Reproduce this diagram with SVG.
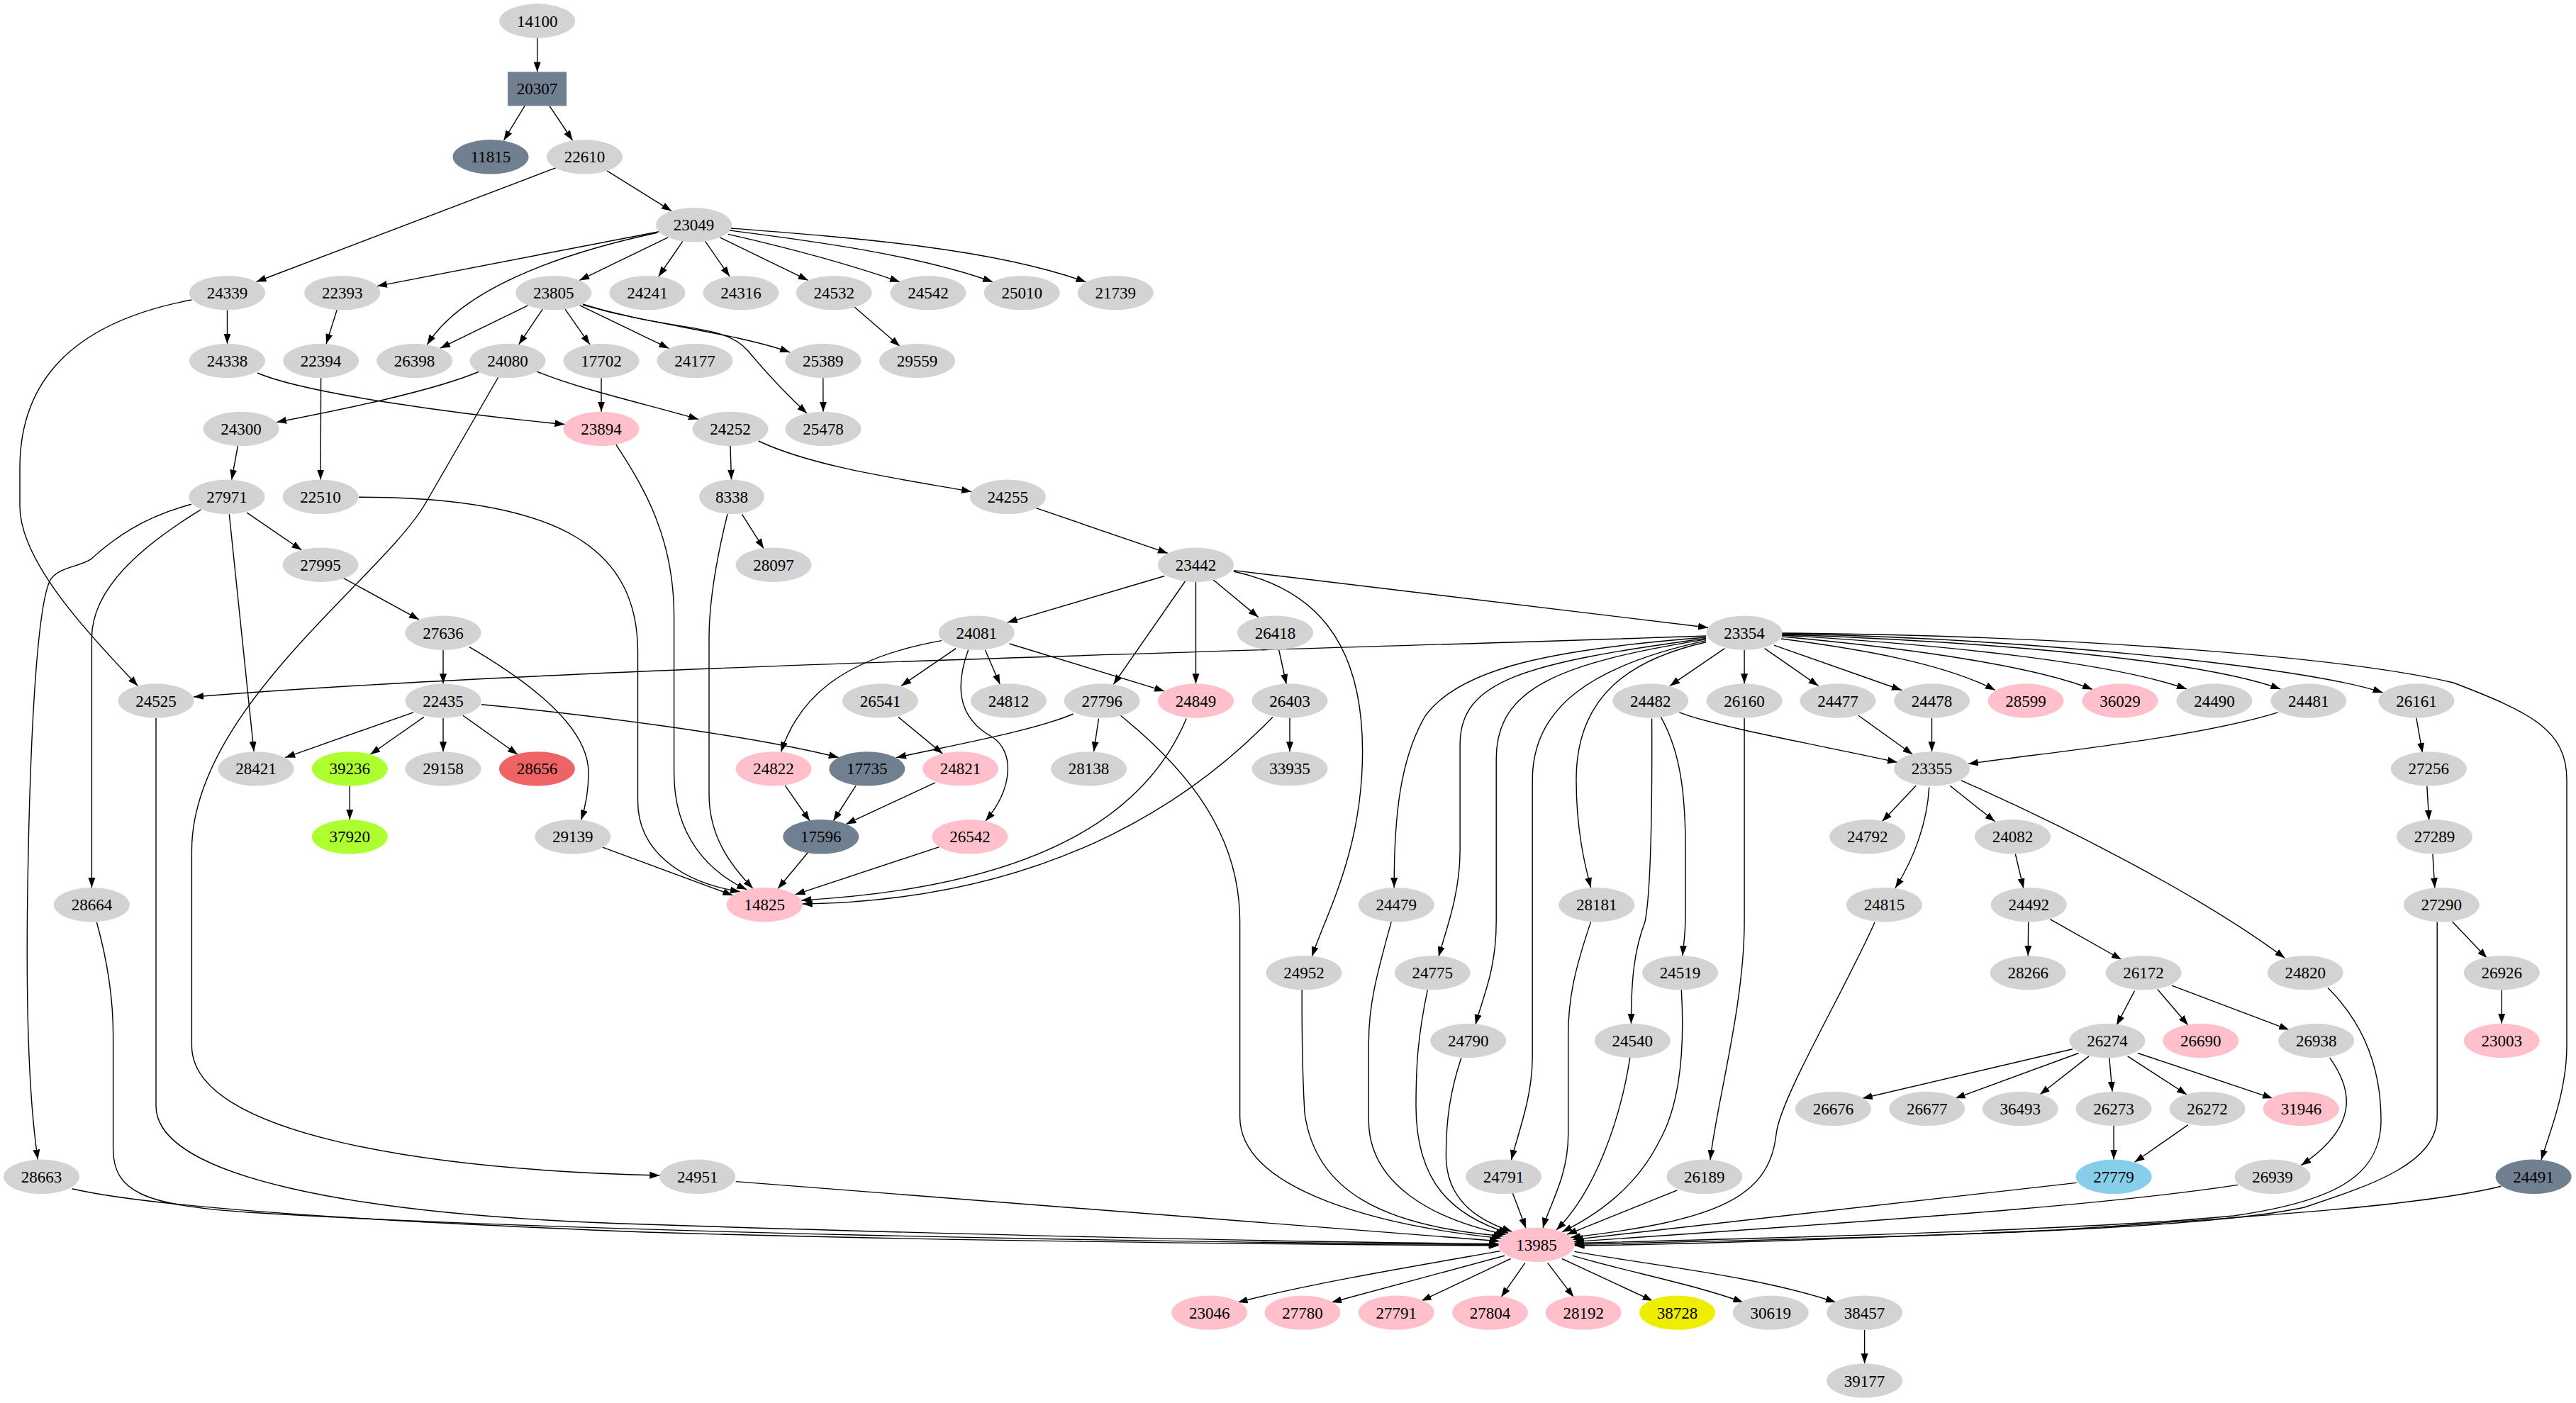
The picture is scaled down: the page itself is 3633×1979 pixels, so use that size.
<svg xmlns="http://www.w3.org/2000/svg" width="3633" height="1979" viewBox="0 0 3633 1979">
<defs>
<marker id="a" markerUnits="userSpaceOnUse" markerWidth="15" markerHeight="11" refX="14" refY="5" orient="auto"><path d="M0,0 L14,5 L0,10 z" fill="#000"/></marker>
<style>
.e{fill:none;stroke:#000;stroke-width:1.4;marker-end:url(#a)}
.g{fill:#d3d3d3}.p{fill:#ffc0cb}.s{fill:#708090}.y{fill:#adff2f}.r{fill:#ee6363}.yl{fill:#eeee00}.b{fill:#87ceeb}
text{font-family:"Liberation Serif","Times New Roman",serif;font-size:23px;text-anchor:middle;fill:#000}
</style>
</defs>
<rect width="3633" height="1979" fill="#fff"/>
<g id="edges">
<path class="e" d="M757.7,53.7 L757.7,101.4"/>
<path class="e" d="M740,149.4 L710.5,198"/>
<path class="e" d="M775,149.4 L807.5,198"/>
<path class="e" d="M783.6,236.9 L361.4,397.5"/>
<path class="e" d="M856,240.9 L947.1,297.6"/>
<path class="e" d="M929.4,326.7 L531.9,403.6"/>
<path class="e" d="M926.8,328.3 C780,360 650,410 602.4,486.2"/>
<path class="e" d="M942.1,334.9 L817.3,395.4"/>
<path class="e" d="M962.8,340.3 L928.7,390"/>
<path class="e" d="M994.6,340.3 L1029,390"/>
<path class="e" d="M1015.1,334.9 L1139.7,395.4"/>
<path class="e" d="M1027,330.4 C1100,347 1190,370 1269,397.7"/>
<path class="e" d="M1029,325 C1130,338 1290,358 1400.2,397.8"/>
<path class="e" d="M1031,322 C1200,335 1400,350 1531.5,397.8"/>
<path class="e" d="M320.5,437.3 L320.5,484.8"/>
<path class="e" d="M270.3,423 C100,455 28,540 28,660 L28,714 C28,790 120,890 194.4,967.4"/>
<path class="e" d="M475.2,437.1 L460.1,485"/>
<path class="e" d="M744.5,430.9 L620.9,491.2"/>
<path class="e" d="M765.2,436.2 L731.6,485.9"/>
<path class="e" d="M797,436.2 L831.8,485.9"/>
<path class="e" d="M817.4,430.7 L943.4,491.4"/>
<path class="e" d="M822,429 C900,455 1040,470 1114,497"/>
<path class="e" d="M822,430 C960,470 1020,455 1055,495 C1080,525 1110,557 1138,583"/>
<path class="e" d="M363,526 C430,555 650,585 796.5,598.5"/>
<path class="e" d="M676,524 C610,552 480,578 390,595.6"/>
<path class="e" d="M757,524 C820,550 920,572 985,591.4"/>
<path class="e" d="M702.8,532 L600,710 C540,814 270.4,1000 270.4,1200 L270.4,1475 C270.4,1600 600,1650 930.3,1658"/>
<path class="e" d="M848,533.2 L848,580.7"/>
<path class="e" d="M1160.8,533.2 L1161,580.7"/>
<path class="e" d="M1205,433 L1269,488.3"/>
<path class="e" d="M452.6,533.2 L452.1,676.6"/>
<path class="e" d="M335.4,629 L326.7,676.7"/>
<path class="e" d="M868.8,627.2 C910,690 950.6,760 950.6,870 L950.6,1090 C950.6,1180 1000,1230 1053.2,1254.8"/>
<path class="e" d="M1030,629 L1031.5,676.6"/>
<path class="e" d="M1069.6,622 C1150,660 1280,677 1370,693.5"/>
<path class="e" d="M506,701.2 C800,701 899.5,780 899.5,920 L899.5,1130 C899.5,1200 960,1245 1043.9,1257.7"/>
<path class="e" d="M1046.4,725.4 L1077.1,773.8"/>
<path class="e" d="M1026,725 C1010,790 1000,850 1000,900 L1000,1120 C1000,1180 1030,1220 1061.8,1253.2"/>
<path class="e" d="M1461.3,716.6 L1647,780.4"/>
<path class="e" d="M348.2,723.2 L425.4,776"/>
<path class="e" d="M323.3,725.4 L358.1,1060"/>
<path class="e" d="M283.2,718.8 C200,770 129.4,830 129.4,900 L129.4,1252"/>
<path class="e" d="M269.9,711.3 C200,730 160,760 127.7,789.2 C110,800 85,800 72.5,815.6 C55,840 42,1000 38.5,1290 C37,1450 42,1560 53.4,1635.6"/>
<path class="e" d="M484.6,815.6 L591,873.9"/>
<path class="e" d="M625,916.8 L625,964.3"/>
<path class="e" d="M661.6,912.4 C760,970 830,1030 830,1090 C830,1120 825,1140 819.5,1156.5"/>
<path class="e" d="M583.2,1004.8 L402.2,1068.6"/>
<path class="e" d="M597.8,1011.4 L522.3,1064.2"/>
<path class="e" d="M625,1012.7 L625,1060.2"/>
<path class="e" d="M652.9,1009.2 L730,1064.2"/>
<path class="e" d="M679,993.8 C800,1005 1050,1035 1182.8,1068.6"/>
<path class="e" d="M493.3,1108.6 L493.3,1156.1"/>
<path class="e" d="M849.9,1195.2 L1033.4,1263"/>
<path class="e" d="M1642.4,812.5 L1420.7,878.1"/>
<path class="e" d="M1671.4,820 L1570.3,965.4"/>
<path class="e" d="M1686.5,820.9 L1686.5,964.3"/>
<path class="e" d="M1711,817.8 L1774.7,870.6"/>
<path class="e" d="M1739.9,806 C1850,830 1921.6,900 1921.6,1060 C1921.6,1200 1870,1290 1850.2,1349.3"/>
<path class="e" d="M1739.9,804.6 L2409,885.2"/>
<path class="e" d="M1327.9,903.6 C1180,930 1125,990 1101.5,1060.5"/>
<path class="e" d="M1348.2,914.6 L1271,967.4"/>
<path class="e" d="M1389.4,916.8 L1410.3,965.2"/>
<path class="e" d="M1365.6,916.8 C1350,960 1345,1010 1400,1040 C1430,1060 1430,1110 1390,1158"/>
<path class="e" d="M1423.6,908 L1642.2,974.9"/>
<path class="e" d="M1803.7,917 L1814.2,965"/>
<path class="e" d="M1819,1012.7 L1819,1060.2"/>
<path class="e" d="M1795,1011.4 C1700,1110 1500,1270 1131.7,1275"/>
<path class="e" d="M1513.6,1007 C1460,1030 1350,1050 1264,1068.6"/>
<path class="e" d="M1549.5,1013.6 L1542.6,1060.2"/>
<path class="e" d="M1580.3,1009.2 C1680,1090 1748.6,1180 1748.6,1300 L1748.6,1575 C1748.6,1680 1950,1730 2117.4,1746.6"/>
<path class="e" d="M1673.2,1013.6 C1620,1140 1480,1250 1130,1269.9"/>
<path class="e" d="M1266.9,1011.4 L1329.4,1063.1"/>
<path class="e" d="M1107.3,1108.2 L1142.1,1158"/>
<path class="e" d="M1207.1,1108.2 L1175.2,1158"/>
<path class="e" d="M1319.1,1103.8 L1193.2,1162.4"/>
<path class="e" d="M1139,1203 L1097.1,1253.5"/>
<path class="e" d="M1324.7,1194.6 L1121.5,1261.9"/>
<path class="e" d="M2406,897 C1800,918 800,940 273,983"/>
<path class="e" d="M2406,899 C2200,915 2060,940 2010,1010 C1975,1070 1966,1150 1966.2,1252"/>
<path class="e" d="M2406,900.5 C2150,935 2059.1,960 2059.1,1050 L2059.1,1200 C2059.1,1260 2040,1310 2028.9,1349.3"/>
<path class="e" d="M2406,901.9 C2200,935 2110.2,970 2110.2,1070 L2110.2,1300 C2110.2,1370 2090,1410 2081,1445"/>
<path class="e" d="M2406,903.6 C2240,940 2161.2,1000 2161.2,1100 L2161.2,1490 C2161.2,1550 2140,1600 2131.6,1636"/>
<path class="e" d="M2406,905.8 C2300,930 2223,980 2223,1100 C2223,1170 2235,1220 2243.6,1252"/>
<path class="e" d="M2432.3,914.6 L2355.1,967.4"/>
<path class="e" d="M2460.1,916.8 L2460.1,964.3"/>
<path class="e" d="M2488.6,914.6 L2564.6,967.4"/>
<path class="e" d="M2501.9,910.2 L2682,973.5"/>
<path class="e" d="M2512,901 C2620,915 2740,935 2814,973.5"/>
<path class="e" d="M2513,898 C2700,915 2870,940 2951,972.5"/>
<path class="e" d="M2513,896 C2750,910 2980,935 3084,972"/>
<path class="e" d="M2513,895 C2800,905 3100,930 3216.3,972"/>
<path class="e" d="M2513,894 C2850,900 3250,940 3360.6,977"/>
<path class="e" d="M2513,893 C2900,896 3300,925 3460,963 C3570,1005 3620,1030 3620,1100 L3620,1475 C3620,1540 3595,1600 3584,1636"/>
<path class="e" d="M2368.4,1004.8 C2420,1025 2560,1050 2676,1075.3"/>
<path class="e" d="M2329.6,1013.6 C2330,1100 2330,1250 2320,1300 C2305,1340 2300.5,1380 2300.5,1443.8"/>
<path class="e" d="M2342.3,1011.4 C2370,1060 2377.1,1120 2377.1,1200 L2377.1,1290 C2377,1320 2374,1335 2373,1348"/>
<path class="e" d="M2460.1,1012.7 L2460.1,1300 C2460,1420 2420,1560 2412,1636"/>
<path class="e" d="M2620.9,1009.2 L2697.5,1064.2"/>
<path class="e" d="M2724.5,1012.7 L2724.5,1060.2"/>
<path class="e" d="M3212.6,1004.8 C3100,1040 2900,1060 2776,1077.4"/>
<path class="e" d="M3407.8,1012.7 L3416.5,1062"/>
<path class="e" d="M3422.8,1108.6 L3425.7,1157"/>
<path class="e" d="M3430.9,1204.5 L3433.8,1252.4"/>
<path class="e" d="M3458.5,1300 L3507.5,1351.5"/>
<path class="e" d="M3437.2,1300.4 L3437.2,1575 C3437,1640 3350,1670 3250,1703 C3100,1735 2700,1745 2220.5,1755.2"/>
<path class="e" d="M3528.2,1396.3 L3528.2,1443.8"/>
<path class="e" d="M2702.1,1108.2 L2654.5,1158.8"/>
<path class="e" d="M2720.7,1110.5 C2718,1160 2700,1210 2673,1252.6"/>
<path class="e" d="M2750.2,1108.2 L2813.5,1158.8"/>
<path class="e" d="M2765.7,1100.8 C2900,1160 3100,1260 3222.4,1351.5"/>
<path class="e" d="M2842.3,1204.5 L2853.8,1253"/>
<path class="e" d="M2860.7,1300.4 L2860.2,1347.9"/>
<path class="e" d="M2891.3,1296.6 L2992,1353.5"/>
<path class="e" d="M3010.5,1397.6 L2985.1,1446"/>
<path class="e" d="M3042.7,1395.4 L3085.9,1446"/>
<path class="e" d="M3062.9,1390.2 L3228.2,1452.6"/>
<path class="e" d="M2922.9,1479.8 L2626.7,1549.3"/>
<path class="e" d="M2931.6,1485.5 L2757.6,1549.3"/>
<path class="e" d="M2946,1489.9 L2876.9,1544"/>
<path class="e" d="M2974.8,1492 L2979,1539.8"/>
<path class="e" d="M3000.7,1489.9 L3084.2,1544"/>
<path class="e" d="M3015,1485.5 L3205.1,1549.3"/>
<path class="e" d="M2981.1,1588.1 L2981.1,1635.6"/>
<path class="e" d="M3085.9,1586.6 L3010.5,1639.3"/>
<path class="e" d="M3285.7,1492.1 C3320,1540 3325,1590 3245.4,1643.7"/>
<path class="e" d="M2116,1764.6 C2000,1785 1850,1810 1745.7,1837"/>
<path class="e" d="M2121.8,1771.2 L1878,1837"/>
<path class="e" d="M2130.5,1775.5 L2004.6,1834.9"/>
<path class="e" d="M2150.8,1781.3 L2117.1,1829.6"/>
<path class="e" d="M2182.7,1781.3 L2219.3,1829.6"/>
<path class="e" d="M2203,1775.5 L2330.7,1834.9"/>
<path class="e" d="M2217.5,1771.2 C2300,1795 2390,1812 2458.4,1837"/>
<path class="e" d="M2220.4,1765.4 C2330,1785 2480,1800 2589,1837"/>
<path class="e" d="M2629.6,1875.8 L2629.6,1923.3"/>
<path class="e" d="M101.6,1676.7 C200,1700 450,1720 910,1738 C1300,1750 1800,1755 2113.6,1757"/>
<path class="e" d="M136.4,1301 C150,1350 159.6,1400 159.6,1460 L159.6,1620 C159.6,1680 200,1700 350,1710 C800,1738 1600,1752 2113.5,1755.7"/>
<path class="e" d="M220,1012.7 L220,1560 C220,1660 500,1715 910,1727 C1300,1740 1800,1752 2113.6,1754.4"/>
<path class="e" d="M1037.7,1666.6 L2114.7,1750.7"/>
<path class="e" d="M1836.2,1396.3 C1836,1450 1837,1520 1840,1570 C1855,1680 1950,1730 2120.7,1743.6"/>
<path class="e" d="M1962.2,1300.4 C1940,1380 1930.3,1420 1930.3,1470 L1930.3,1580 C1930.3,1670 2020,1720 2123.7,1741.5"/>
<path class="e" d="M2013.3,1396.3 C2000,1460 1997,1500 1997,1560 C1997,1670 2050,1715 2127.2,1739.5"/>
<path class="e" d="M2060.8,1492.2 C2045,1540 2039.4,1580 2039.4,1630 C2039.4,1690 2080,1720 2132.6,1737.2"/>
<path class="e" d="M2133.4,1683 L2152,1732.4"/>
<path class="e" d="M2243.6,1300.4 C2220,1370 2211.7,1410 2211.7,1460 L2211.7,1600 C2211.7,1660 2185,1700 2176,1731.9"/>
<path class="e" d="M2298.8,1492.2 C2285,1580 2250,1680 2195,1735"/>
<path class="e" d="M2371.3,1396.3 C2375,1460 2374,1550 2340,1610 C2310,1670 2260,1710 2203,1737.8"/>
<path class="e" d="M2365.5,1678.9 L2210,1741.3"/>
<path class="e" d="M2644,1301 C2600,1400 2510,1550 2505,1600 C2495,1690 2420,1722 2215,1745.5"/>
<path class="e" d="M2928.7,1668.4 L2218.3,1748.6"/>
<path class="e" d="M3156.2,1671.4 C3000,1695 2800,1712 2219.8,1751.5"/>
<path class="e" d="M3282.9,1393.3 C3330,1440 3358,1500 3358,1580 C3358,1660 3290,1695 3150,1715 C3000,1730 2700,1742 2220.3,1753.5"/>
<path class="e" d="M3527.6,1673.2 C3420,1700 3200,1715 2900,1735 C2600,1748 2400,1755 2220.5,1757"/>
</g>
<g id="n14100"><ellipse class="g" cx="757.7" cy="29.5" rx="53.5" ry="24.2"/><text x="757.7" y="37.5">14100</text></g>
<g id="n20307"><rect class="s" x="716" y="101.4" width="83" height="48"/><text x="757.6" y="133.4">20307</text></g>
<g id="n11815"><ellipse class="s" cx="692" cy="221.3" rx="53.5" ry="24.2"/><text x="692" y="229.3">11815</text></g>
<g id="n22610"><ellipse class="g" cx="824.5" cy="221.3" rx="53.5" ry="24.2"/><text x="824.5" y="229.3">22610</text></g>
<g id="n23049"><ellipse class="g" cx="978.6" cy="317.2" rx="53.5" ry="24.2"/><text x="978.6" y="325.2">23049</text></g>
<g id="n24339"><ellipse class="g" cx="320.5" cy="413.1" rx="53.5" ry="24.2"/><text x="320.5" y="421.1">24339</text></g>
<g id="n22393"><ellipse class="g" cx="482.7" cy="413.1" rx="53.5" ry="24.2"/><text x="482.7" y="421.1">22393</text></g>
<g id="n23805"><ellipse class="g" cx="780.8" cy="413.1" rx="53.5" ry="24.2"/><text x="780.8" y="421.1">23805</text></g>
<g id="n24241"><ellipse class="g" cx="912.9" cy="413.1" rx="53.5" ry="24.2"/><text x="912.9" y="421.1">24241</text></g>
<g id="n24316"><ellipse class="g" cx="1045" cy="413.1" rx="53.5" ry="24.2"/><text x="1045" y="421.1">24316</text></g>
<g id="n24532"><ellipse class="g" cx="1176.2" cy="413.1" rx="53.5" ry="24.2"/><text x="1176.2" y="421.1">24532</text></g>
<g id="n24542"><ellipse class="g" cx="1309" cy="413.1" rx="53.5" ry="24.2"/><text x="1309" y="421.1">24542</text></g>
<g id="n25010"><ellipse class="g" cx="1441.2" cy="413.1" rx="53.5" ry="24.2"/><text x="1441.2" y="421.1">25010</text></g>
<g id="n21739"><ellipse class="g" cx="1573.2" cy="413.1" rx="53.5" ry="24.2"/><text x="1573.2" y="421.1">21739</text></g>
<g id="n24338"><ellipse class="g" cx="320.5" cy="509" rx="53.5" ry="24.2"/><text x="320.5" y="517">24338</text></g>
<g id="n22394"><ellipse class="g" cx="452.6" cy="509" rx="53.5" ry="24.2"/><text x="452.6" y="517">22394</text></g>
<g id="n26398"><ellipse class="g" cx="584.6" cy="509" rx="53.5" ry="24.2"/><text x="584.6" y="517">26398</text></g>
<g id="n24080"><ellipse class="g" cx="716" cy="509" rx="53.5" ry="24.2"/><text x="716" y="517">24080</text></g>
<g id="n17702"><ellipse class="g" cx="848" cy="509" rx="53.5" ry="24.2"/><text x="848" y="517">17702</text></g>
<g id="n24177"><ellipse class="g" cx="980" cy="509" rx="53.5" ry="24.2"/><text x="980" y="517">24177</text></g>
<g id="n25389"><ellipse class="g" cx="1160.8" cy="509" rx="53.5" ry="24.2"/><text x="1160.8" y="517">25389</text></g>
<g id="n29559"><ellipse class="g" cx="1293.6" cy="509" rx="53.5" ry="24.2"/><text x="1293.6" y="517">29559</text></g>
<g id="n24300"><ellipse class="g" cx="340" cy="604.9" rx="53.5" ry="24.2"/><text x="340" y="612.9">24300</text></g>
<g id="n23894"><ellipse class="p" cx="848" cy="604.9" rx="53.5" ry="24.2"/><text x="848" y="612.9">23894</text></g>
<g id="n24252"><ellipse class="g" cx="1030" cy="604.9" rx="53.5" ry="24.2"/><text x="1030" y="612.9">24252</text></g>
<g id="n25478"><ellipse class="g" cx="1161" cy="604.9" rx="53.5" ry="24.2"/><text x="1161" y="612.9">25478</text></g>
<g id="n27971"><ellipse class="g" cx="320" cy="700.8" rx="53.5" ry="24.2"/><text x="320" y="708.8">27971</text></g>
<g id="n22510"><ellipse class="g" cx="452.1" cy="700.8" rx="53.5" ry="24.2"/><text x="452.1" y="708.8">22510</text></g>
<g id="n8338"><ellipse class="g" cx="1031.9" cy="700.8" rx="46" ry="24.2"/><text x="1031.9" y="708.8">8338</text></g>
<g id="n24255"><ellipse class="g" cx="1421.3" cy="700.8" rx="53.5" ry="24.2"/><text x="1421.3" y="708.8">24255</text></g>
<g id="n27995"><ellipse class="g" cx="452.1" cy="796.7" rx="53.5" ry="24.2"/><text x="452.1" y="804.7">27995</text></g>
<g id="n28097"><ellipse class="g" cx="1091.1" cy="796.7" rx="53.5" ry="24.2"/><text x="1091.1" y="804.7">28097</text></g>
<g id="n23442"><ellipse class="g" cx="1686.5" cy="796.7" rx="53.5" ry="24.2"/><text x="1686.5" y="804.7">23442</text></g>
<g id="n27636"><ellipse class="g" cx="625" cy="892.6" rx="53.5" ry="24.2"/><text x="625" y="900.6">27636</text></g>
<g id="n24081"><ellipse class="g" cx="1377.2" cy="892.6" rx="53.5" ry="24.2"/><text x="1377.2" y="900.6">24081</text></g>
<g id="n26418"><ellipse class="g" cx="1798.5" cy="892.6" rx="53.5" ry="24.2"/><text x="1798.5" y="900.6">26418</text></g>
<g id="n23354"><ellipse class="g" cx="2460.1" cy="892.6" rx="53.5" ry="24.2"/><text x="2460.1" y="900.6">23354</text></g>
<g id="n24525"><ellipse class="g" cx="220" cy="988.5" rx="53.5" ry="24.2"/><text x="220" y="996.5">24525</text></g>
<g id="n22435"><ellipse class="g" cx="625" cy="988.5" rx="53.5" ry="24.2"/><text x="625" y="996.5">22435</text></g>
<g id="n26541"><ellipse class="g" cx="1241.4" cy="988.5" rx="53.5" ry="24.2"/><text x="1241.4" y="996.5">26541</text></g>
<g id="n24812"><ellipse class="g" cx="1422.5" cy="988.5" rx="53.5" ry="24.2"/><text x="1422.5" y="996.5">24812</text></g>
<g id="n27796"><ellipse class="g" cx="1554.2" cy="988.5" rx="53.5" ry="24.2"/><text x="1554.2" y="996.5">27796</text></g>
<g id="n24849"><ellipse class="p" cx="1686.5" cy="988.5" rx="53.5" ry="24.2"/><text x="1686.5" y="996.5">24849</text></g>
<g id="n26403"><ellipse class="g" cx="1819" cy="988.5" rx="53.5" ry="24.2"/><text x="1819" y="996.5">26403</text></g>
<g id="n24482"><ellipse class="g" cx="2327.8" cy="988.5" rx="53.5" ry="24.2"/><text x="2327.8" y="996.5">24482</text></g>
<g id="n26160"><ellipse class="g" cx="2460.1" cy="988.5" rx="53.5" ry="24.2"/><text x="2460.1" y="996.5">26160</text></g>
<g id="n24477"><ellipse class="g" cx="2591.9" cy="988.5" rx="53.5" ry="24.2"/><text x="2591.9" y="996.5">24477</text></g>
<g id="n24478"><ellipse class="g" cx="2724.5" cy="988.5" rx="53.5" ry="24.2"/><text x="2724.5" y="996.5">24478</text></g>
<g id="n28599"><ellipse class="p" cx="2857.1" cy="988.5" rx="53.5" ry="24.2"/><text x="2857.1" y="996.5">28599</text></g>
<g id="n36029"><ellipse class="p" cx="2990" cy="988.5" rx="53.5" ry="24.2"/><text x="2990" y="996.5">36029</text></g>
<g id="n24490"><ellipse class="g" cx="3122.9" cy="988.5" rx="53.5" ry="24.2"/><text x="3122.9" y="996.5">24490</text></g>
<g id="n24481"><ellipse class="g" cx="3255.8" cy="988.5" rx="53.5" ry="24.2"/><text x="3255.8" y="996.5">24481</text></g>
<g id="n26161"><ellipse class="g" cx="3407.9" cy="988.5" rx="53.5" ry="24.2"/><text x="3407.9" y="996.5">26161</text></g>
<g id="n28421"><ellipse class="g" cx="361" cy="1084.4" rx="53.5" ry="24.2"/><text x="361" y="1092.4">28421</text></g>
<g id="n39236"><ellipse class="y" cx="493.3" cy="1084.4" rx="53.5" ry="24.2"/><text x="493.3" y="1092.4">39236</text></g>
<g id="n29158"><ellipse class="g" cx="625" cy="1084.4" rx="53.5" ry="24.2"/><text x="625" y="1092.4">29158</text></g>
<g id="n28656"><ellipse class="r" cx="757.4" cy="1084.4" rx="53.5" ry="24.2"/><text x="757.4" y="1092.4">28656</text></g>
<g id="n24822"><ellipse class="p" cx="1091.1" cy="1084.4" rx="53.5" ry="24.2"/><text x="1091.1" y="1092.4">24822</text></g>
<g id="n17735"><ellipse class="s" cx="1222.8" cy="1084.4" rx="53.5" ry="24.2"/><text x="1222.8" y="1092.4">17735</text></g>
<g id="n24821"><ellipse class="p" cx="1354.6" cy="1084.4" rx="53.5" ry="24.2"/><text x="1354.6" y="1092.4">24821</text></g>
<g id="n28138"><ellipse class="g" cx="1535.6" cy="1084.4" rx="53.5" ry="24.2"/><text x="1535.6" y="1092.4">28138</text></g>
<g id="n33935"><ellipse class="g" cx="1819" cy="1084.4" rx="53.5" ry="24.2"/><text x="1819" y="1092.4">33935</text></g>
<g id="n23355"><ellipse class="g" cx="2724.5" cy="1084.4" rx="53.5" ry="24.2"/><text x="2724.5" y="1092.4">23355</text></g>
<g id="n27256"><ellipse class="g" cx="3425.3" cy="1084.4" rx="53.5" ry="24.2"/><text x="3425.3" y="1092.4">27256</text></g>
<g id="n37920"><ellipse class="y" cx="493.3" cy="1180.3" rx="53.5" ry="24.2"/><text x="493.3" y="1188.3">37920</text></g>
<g id="n29139"><ellipse class="g" cx="807.8" cy="1180.3" rx="53.5" ry="24.2"/><text x="807.8" y="1188.3">29139</text></g>
<g id="n17596"><ellipse class="s" cx="1157.8" cy="1180.3" rx="53.5" ry="24.2"/><text x="1157.8" y="1188.3">17596</text></g>
<g id="n26542"><ellipse class="p" cx="1367.9" cy="1180.3" rx="53.5" ry="24.2"/><text x="1367.9" y="1188.3">26542</text></g>
<g id="n24792"><ellipse class="g" cx="2633.7" cy="1180.3" rx="53.5" ry="24.2"/><text x="2633.7" y="1188.3">24792</text></g>
<g id="n24082"><ellipse class="g" cx="2838.5" cy="1180.3" rx="53.5" ry="24.2"/><text x="2838.5" y="1188.3">24082</text></g>
<g id="n27289"><ellipse class="g" cx="3433.4" cy="1180.3" rx="53.5" ry="24.2"/><text x="3433.4" y="1188.3">27289</text></g>
<g id="n28664"><ellipse class="g" cx="129.4" cy="1276.2" rx="53.5" ry="24.2"/><text x="129.4" y="1284.2">28664</text></g>
<g id="n14825"><ellipse class="p" cx="1078.3" cy="1276.2" rx="53.5" ry="24.2"/><text x="1078.3" y="1284.2">14825</text></g>
<g id="n24479"><ellipse class="g" cx="1969.2" cy="1276.2" rx="53.5" ry="24.2"/><text x="1969.2" y="1284.2">24479</text></g>
<g id="n28181"><ellipse class="g" cx="2251.8" cy="1276.2" rx="53.5" ry="24.2"/><text x="2251.8" y="1284.2">28181</text></g>
<g id="n24815"><ellipse class="g" cx="2657.4" cy="1276.2" rx="53.5" ry="24.2"/><text x="2657.4" y="1284.2">24815</text></g>
<g id="n24492"><ellipse class="g" cx="2861.2" cy="1276.2" rx="53.5" ry="24.2"/><text x="2861.2" y="1284.2">24492</text></g>
<g id="n27290"><ellipse class="g" cx="3443.3" cy="1276.2" rx="53.5" ry="24.2"/><text x="3443.3" y="1284.2">27290</text></g>
<g id="n24952"><ellipse class="g" cx="1839" cy="1372.1" rx="53.5" ry="24.2"/><text x="1839" y="1380.1">24952</text></g>
<g id="n24775"><ellipse class="g" cx="2020.2" cy="1372.1" rx="53.5" ry="24.2"/><text x="2020.2" y="1380.1">24775</text></g>
<g id="n24519"><ellipse class="g" cx="2369.6" cy="1372.1" rx="53.5" ry="24.2"/><text x="2369.6" y="1380.1">24519</text></g>
<g id="n28266"><ellipse class="g" cx="2860.2" cy="1372.1" rx="53.5" ry="24.2"/><text x="2860.2" y="1380.1">28266</text></g>
<g id="n26172"><ellipse class="g" cx="3023.1" cy="1372.1" rx="53.5" ry="24.2"/><text x="3023.1" y="1380.1">26172</text></g>
<g id="n24820"><ellipse class="g" cx="3251.2" cy="1372.1" rx="53.5" ry="24.2"/><text x="3251.2" y="1380.1">24820</text></g>
<g id="n26926"><ellipse class="g" cx="3528.2" cy="1372.1" rx="53.5" ry="24.2"/><text x="3528.2" y="1380.1">26926</text></g>
<g id="n24790"><ellipse class="g" cx="2070.7" cy="1468" rx="53.5" ry="24.2"/><text x="2070.7" y="1476">24790</text></g>
<g id="n24540"><ellipse class="g" cx="2302.3" cy="1468" rx="53.5" ry="24.2"/><text x="2302.3" y="1476">24540</text></g>
<g id="n26274"><ellipse class="g" cx="2971.9" cy="1468" rx="53.5" ry="24.2"/><text x="2971.9" y="1476">26274</text></g>
<g id="n26690"><ellipse class="p" cx="3103.8" cy="1468" rx="53.5" ry="24.2"/><text x="3103.8" y="1476">26690</text></g>
<g id="n26938"><ellipse class="g" cx="3266.7" cy="1468" rx="53.5" ry="24.2"/><text x="3266.7" y="1476">26938</text></g>
<g id="n23003"><ellipse class="p" cx="3528.2" cy="1468" rx="53.5" ry="24.2"/><text x="3528.2" y="1476">23003</text></g>
<g id="n26676"><ellipse class="g" cx="2585.5" cy="1563.9" rx="53.5" ry="24.2"/><text x="2585.5" y="1571.9">26676</text></g>
<g id="n26677"><ellipse class="g" cx="2717.7" cy="1563.9" rx="53.5" ry="24.2"/><text x="2717.7" y="1571.9">26677</text></g>
<g id="n36493"><ellipse class="g" cx="2849.2" cy="1563.9" rx="53.5" ry="24.2"/><text x="2849.2" y="1571.9">36493</text></g>
<g id="n26273"><ellipse class="g" cx="2981.1" cy="1563.9" rx="53.5" ry="24.2"/><text x="2981.1" y="1571.9">26273</text></g>
<g id="n26272"><ellipse class="g" cx="3113" cy="1563.9" rx="53.5" ry="24.2"/><text x="3113" y="1571.9">26272</text></g>
<g id="n31946"><ellipse class="p" cx="3245.4" cy="1563.9" rx="53.5" ry="24.2"/><text x="3245.4" y="1571.9">31946</text></g>
<g id="n28663"><ellipse class="g" cx="58.6" cy="1659.8" rx="53.5" ry="24.2"/><text x="58.6" y="1667.8">28663</text></g>
<g id="n24951"><ellipse class="g" cx="983.7" cy="1659.8" rx="53.5" ry="24.2"/><text x="983.7" y="1667.8">24951</text></g>
<g id="n24791"><ellipse class="g" cx="2120.6" cy="1659.8" rx="53.5" ry="24.2"/><text x="2120.6" y="1667.8">24791</text></g>
<g id="n26189"><ellipse class="g" cx="2403.8" cy="1659.8" rx="53.5" ry="24.2"/><text x="2403.8" y="1667.8">26189</text></g>
<g id="n27779"><ellipse class="b" cx="2981.1" cy="1659.8" rx="53.5" ry="24.2"/><text x="2981.1" y="1667.8">27779</text></g>
<g id="n26939"><ellipse class="g" cx="3205.1" cy="1659.8" rx="53.5" ry="24.2"/><text x="3205.1" y="1667.8">26939</text></g>
<g id="n24491"><ellipse class="s" cx="3573.1" cy="1659.8" rx="53.5" ry="24.2"/><text x="3573.1" y="1667.8">24491</text></g>
<g id="n13985"><ellipse class="p" cx="2167" cy="1755.7" rx="53.5" ry="24.2"/><text x="2167" y="1763.7">13985</text></g>
<g id="n23046"><ellipse class="p" cx="1705.7" cy="1851.6" rx="53.5" ry="24.2"/><text x="1705.7" y="1859.6">23046</text></g>
<g id="n27780"><ellipse class="p" cx="1837" cy="1851.6" rx="53.5" ry="24.2"/><text x="1837" y="1859.6">27780</text></g>
<g id="n27791"><ellipse class="p" cx="1969.2" cy="1851.6" rx="53.5" ry="24.2"/><text x="1969.2" y="1859.6">27791</text></g>
<g id="n27804"><ellipse class="p" cx="2101.5" cy="1851.6" rx="53.5" ry="24.2"/><text x="2101.5" y="1859.6">27804</text></g>
<g id="n28192"><ellipse class="p" cx="2233.2" cy="1851.6" rx="53.5" ry="24.2"/><text x="2233.2" y="1859.6">28192</text></g>
<g id="n38728"><ellipse class="yl" cx="2365.5" cy="1851.6" rx="53.5" ry="24.2"/><text x="2365.5" y="1859.6">38728</text></g>
<g id="n30619"><ellipse class="g" cx="2497.3" cy="1851.6" rx="53.5" ry="24.2"/><text x="2497.3" y="1859.6">30619</text></g>
<g id="n38457"><ellipse class="g" cx="2629.6" cy="1851.6" rx="53.5" ry="24.2"/><text x="2629.6" y="1859.6">38457</text></g>
<g id="n39177"><ellipse class="g" cx="2629.6" cy="1947.5" rx="53.5" ry="24.2"/><text x="2629.6" y="1955.5">39177</text></g>
</svg>
